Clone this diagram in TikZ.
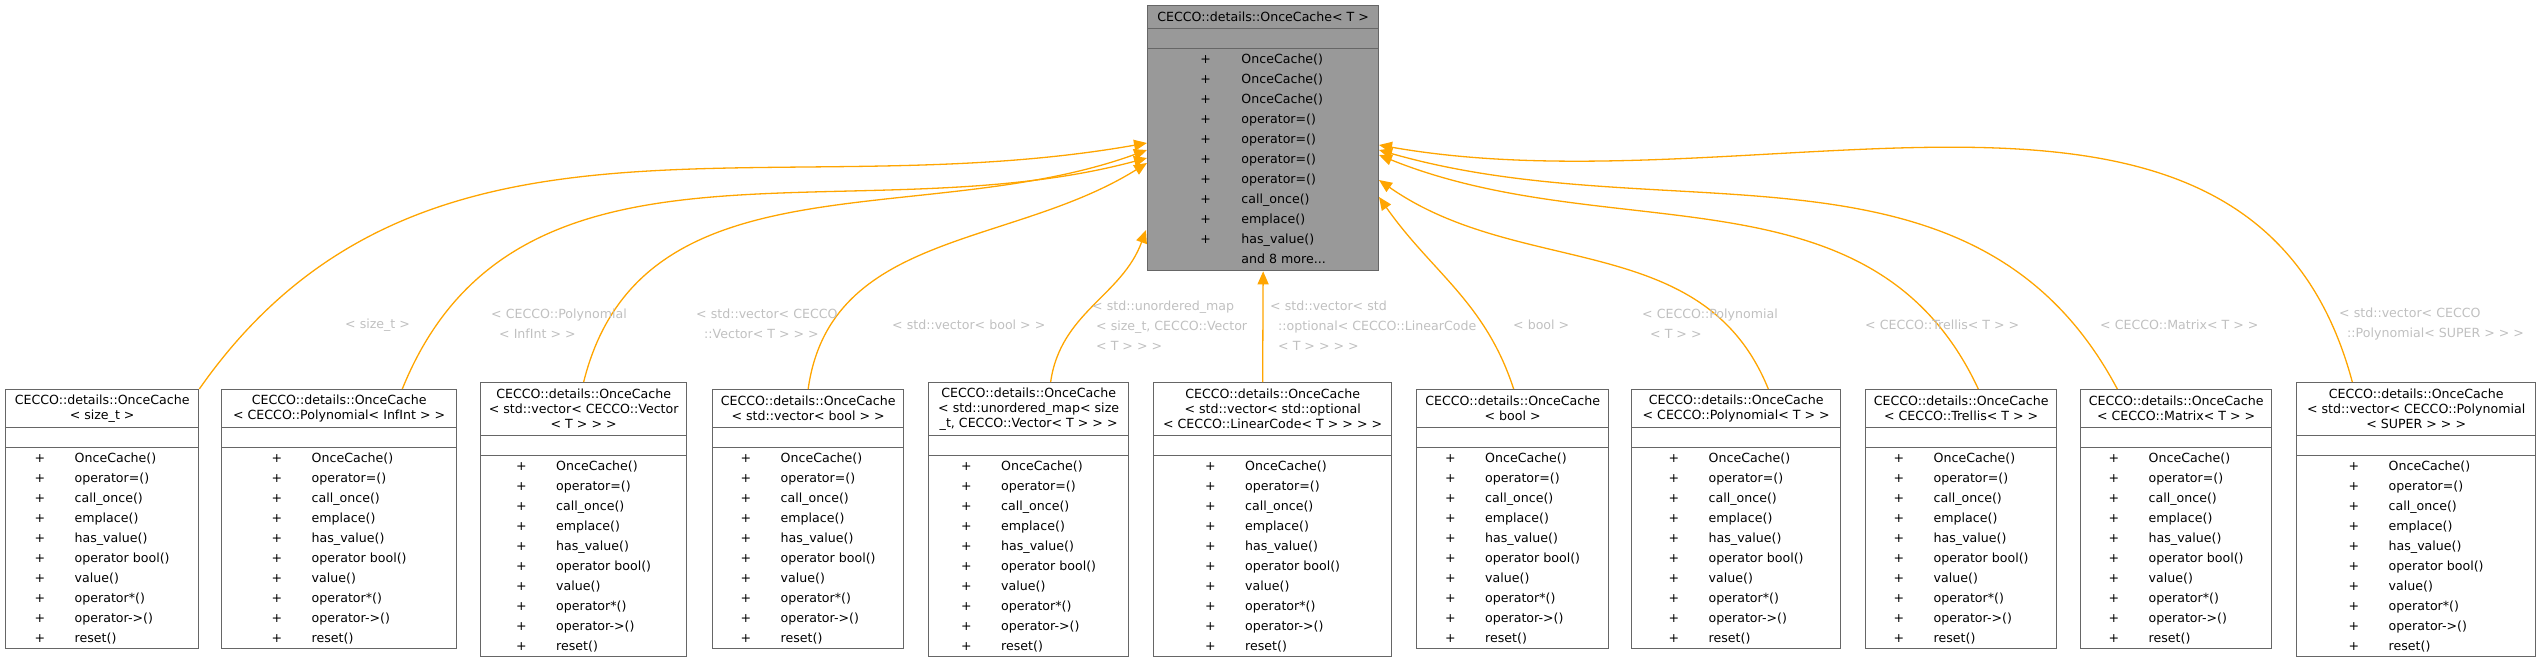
\documentclass[tikz,border=0pt]{standalone}
\usepackage{fontspec}
\setmainfont{DejaVu Sans}
\usetikzlibrary{arrows.meta,positioning}

\definecolor{boxline}{HTML}{666666}
\definecolor{basefill}{HTML}{999999}
\definecolor{inherit}{HTML}{FFA500}
\definecolor{tmplabel}{HTML}{C0C0C0}

\tikzset{
  titlebox/.style={draw=boxline,line width=1.3pt,anchor=north west,inner sep=0pt,
    align=center,font=\fontsize{12.6}{15}\selectfont},
  emptybox/.style={draw=boxline,line width=1.3pt,anchor=north west,inner sep=0pt,minimum height=20pt},
  methodbox/.style={draw=boxline,line width=1.3pt,anchor=north west,inner sep=0pt,
    font=\fontsize{12.6}{20}\selectfont},
  tmpl/.style={text=tmplabel,anchor=west,align=left,inner sep=0pt,
    font=\fontsize{12.6}{20}\selectfont},
  derives/.style={draw=inherit,line width=1.3pt,-{Triangle[length=13pt,width=11pt]}}
}

\newcommand{\cachemethods}{%
  \begin{tabular}{@{}p{40pt}@{}l@{}}
  + & OnceCache()\\ + & operator=()\\ + & call\_once()\\ + & emplace()\\
  + & has\_value()\\ + & operator bool()\\ + & value()\\ + & operator*()\\
  + & operator->()\\ + & reset()
  \end{tabular}}

% \cacheclass{name}{left}{right}{top}{title height}{title}
\newcommand{\cacheclass}[6]{%
  \node[titlebox,minimum width=#3pt-#2pt,minimum height=#5pt,fill=white] (#1) at (#2,#4) {#6};
  \node[emptybox,minimum width=#3pt-#2pt] (#1Attr) at (#2,#4+#5) {};
  \node[methodbox,minimum width=#3pt-#2pt,minimum height=201pt] (#1Ops) at (#2,#4+#5+20) {\cachemethods};
}

\begin{document}
\begin{tikzpicture}[x=1pt,y=-1pt]
\useasboundingbox (0,0) rectangle (2541,661);

% base class
\node[titlebox,fill=basefill,minimum width=231pt,minimum height=23pt] (onceCache) at (1147,5)
  {CECCO::details::OnceCache< T >};
\node[emptybox,fill=basefill,minimum width=231pt] (onceCacheAttr) at (1147,28) {};
\node[methodbox,fill=basefill,minimum width=231pt,minimum height=222pt] (onceCacheOps) at (1147,48)
  {\begin{tabular}{@{}p{41pt}@{}l@{}}
  + & OnceCache()\\ + & OnceCache()\\ + & OnceCache()\\ + & operator=()\\
  + & operator=()\\ + & operator=()\\ + & operator=()\\ + & call\_once()\\
  + & emplace()\\ + & has\_value()\\ & and 8 more...
  \end{tabular}};

% template instances
\cacheclass{cacheSizeT}{5}{198}{389}{38}{CECCO::details::OnceCache\\< size\_t >}
\cacheclass{cachePolyInfInt}{221}{456}{389}{38}{CECCO::details::OnceCache\\< CECCO::Polynomial< InfInt > >}
\cacheclass{cacheVecVector}{480}{686}{382}{53}{CECCO::details::OnceCache\\< std::vector< CECCO::Vector\\< T > > >}
\cacheclass{cacheVecBool}{712}{903}{389}{38}{CECCO::details::OnceCache\\< std::vector< bool > >}
\cacheclass{cacheMap}{928}{1128}{382}{53}{CECCO::details::OnceCache\\< std::unordered\_map< size\\\_t, CECCO::Vector< T > > >}
\cacheclass{cacheVecLinCode}{1153}{1391}{382}{53}{CECCO::details::OnceCache\\< std::vector< std::optional\\< CECCO::LinearCode< T > > > >}
\cacheclass{cacheBool}{1416}{1608}{389}{38}{CECCO::details::OnceCache\\< bool >}
\cacheclass{cachePolyT}{1631}{1840}{389}{38}{CECCO::details::OnceCache\\< CECCO::Polynomial< T > >}
\cacheclass{cacheTrellis}{1865}{2056}{389}{38}{CECCO::details::OnceCache\\< CECCO::Trellis< T > >}
\cacheclass{cacheMatrix}{2080}{2271}{389}{38}{CECCO::details::OnceCache\\< CECCO::Matrix< T > >}
\cacheclass{cacheVecPolySuper}{2296}{2535}{382}{53}{CECCO::details::OnceCache\\< std::vector< CECCO::Polynomial\\< SUPER > > >}

% arrow ends on the base class
\coordinate (inA) at (1147,143);
\coordinate (inB) at (1147,158);
\coordinate (inC) at (1147,150);
\coordinate (inD) at (1147,163);
\coordinate (inE) at (1146,230);
\coordinate (inG) at (1379,197);
\coordinate (inH) at (1379,180);
\coordinate (inI) at (1379,155);
\coordinate (inJ) at (1379,150);
\coordinate (inK) at (1379,145);

\draw[derives] (cacheSizeT.north east) to[out=55,in=190] (inA);
\draw[derives] ([xshift=-55pt]cachePolyInfInt.north east) to[out=68,in=195] (inB);
\draw[derives] (cacheVecVector.north) to[out=76,in=200] (inC);
\draw[derives] (cacheVecBool.north) to[out=82,in=212] (inD);
\draw[derives] ([xshift=22pt]cacheMap.north) to[out=82,in=250] (inE);
\draw[derives] ([xshift=-10pt]cacheVecLinCode.north) -- (onceCacheOps.south);
\draw[derives] ([xshift=1pt]cacheBool.north) to[out=108,in=-55] (inG);
\draw[derives] ([xshift=-73pt]cachePolyT.north east) to[out=112,in=-35] (inH);
\draw[derives] ([xshift=-79pt]cacheTrellis.north east) to[out=115,in=-22] (inI);
\draw[derives] ([xshift=-155pt]cacheMatrix.north east) to[out=118,in=-16] (inJ);
\draw[derives] ([xshift=-184pt]cacheVecPolySuper.north east) to[out=105,in=-10] (inK);

% template arguments
\node[tmpl] (argSizeT) at (345,325) {< size\_t >};
\node[tmpl] (argPolyInfInt) at (491,324) {< CECCO::Polynomial\\\ \ < InfInt > >};
\node[tmpl] (argVecVector) at (696,324) {< std::vector< CECCO\\\ \ ::Vector< T > > >};
\node[tmpl] (argVecBool) at (892,325) {< std::vector< bool > >};
\node[tmpl] (argMap) at (1092,326) {< std::unordered\_map\\\ < size\_t, CECCO::Vector\\\ < T > > >};
\node[tmpl] (argVecLinCode) at (1270,326) {< std::vector< std\\\ \ ::optional< CECCO::LinearCode\\\ \ < T > > > >};
\node[tmpl] (argBool) at (1513,325) {< bool >};
\node[tmpl] (argPolyT) at (1642,324) {< CECCO::Polynomial\\\ \ < T > >};
\node[tmpl] (argTrellis) at (1865,325) {< CECCO::Trellis< T > >};
\node[tmpl] (argMatrix) at (2100,325) {< CECCO::Matrix< T > >};
\node[tmpl] (argVecPolySuper) at (2339,324) {< std::vector< CECCO\\\ \ ::Polynomial< SUPER > > >};
\end{tikzpicture}
\end{document}
